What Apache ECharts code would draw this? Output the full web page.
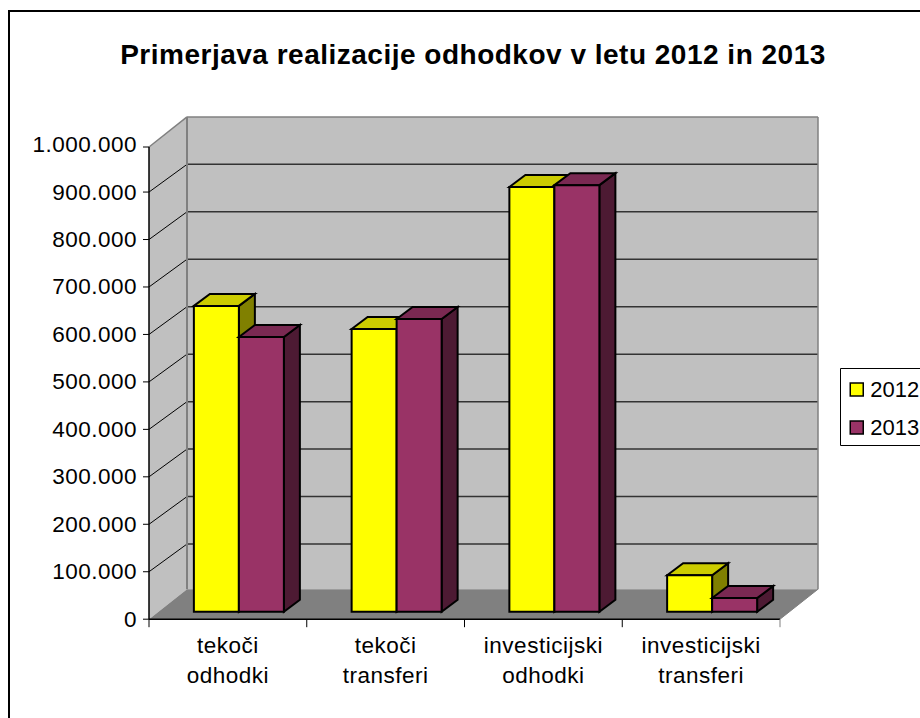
<!DOCTYPE html>
<html><head><meta charset="utf-8">
<style>html,body{margin:0;padding:0;background:#fff}#c{width:920px;height:718px}
#c svg text[style*="22.5px"]{letter-spacing:.5px}
#c svg text[style*="bold"]{letter-spacing:.5px}</style>
<script src="https://cdn.jsdelivr.net/npm/echarts@6/dist/echarts.min.js"></script>
</head><body><div id="c"></div>
<script>
var titleText = 'Primerjava realizacije odhodkov v letu 2012 in 2013';
var categories = ['tekoči\nodhodki', 'tekoči\ntransferi', 'investicijski\nodhodki', 'investicijski\ntransferi'];
var values2012 = [644500, 596000, 895000, 77000];
var values2013 = [579000, 617000, 899000, 29000];
var yMax = 1000000, yStep = 100000;
var FONT = '"Liberation Sans", Arial, sans-serif';
var DX = 38, DY = 27.7, FLOOR_DY = 30, TOP_ADJ = 2.4;
var BAR_DX = 16, BAR_DY = 12, BAR_W = 45, BAR_SHIFT = 11, BAR_LIFT = 7.4;

function fmt(v){ return String(v).replace(/\B(?=(\d{3})+$)/g, '.'); }
function ln(x1,y1,x2,y2,color,w){ return {type:'line',silent:true,shape:{x1:x1,y1:y1,x2:x2,y2:y2},style:{stroke:color,lineWidth:w||1}}; }
function poly(pts,fill,stroke,w){ return {type:'polygon',silent:true,shape:{points:pts},style:{fill:fill,stroke:stroke||null,lineWidth:w||0,lineJoin:'miter'}}; }

function renderFrame(params, api){
  if (params.dataIndex !== 0) return;
  var cs = params.coordSys, L = cs.x, R = cs.x + cs.width;
  var y0 = api.coord([0,0])[1], yT = api.coord([0,yMax])[1];
  var kids = [];
  var topF = yT + TOP_ADJ, topB = yT - DY, botB = y0 - FLOOR_DY;
  kids.push(poly([[L,topF],[L+DX,topB],[L+DX,botB],[L,y0]],'#C0C0C0'));
  kids.push(poly([[L+DX,topB],[R+DX,topB],[R+DX,botB],[L+DX,botB]],'#C0C0C0'));
  kids.push(poly([[L,y0],[L+DX,botB],[R+DX,botB],[R,y0]],'#808080'));
  for (var v = yStep; v < yMax; v += yStep){
    var y = api.coord([0,v])[1];
    kids.push(ln(L,y,L+DX,y-DY,'#000',1));
    kids.push(ln(L+DX,y-DY,R+DX,y-DY,'#333',1.5));
  }
  kids.push(ln(L,topF,L+DX,topB,'#808080',1.5));
  kids.push(ln(L+DX,topB,R+DX,topB,'#808080',1.5));
  kids.push(ln(L+DX,topB,L+DX,botB,'#808080',2));
  kids.push(ln(R+DX,topB,R+DX,botB,'#808080',1.5));
  kids.push(ln(R,y0,R+DX,botB,'#808080',1));
  kids.push(ln(L,topF,L,y0,'#000',1.5));
  kids.push(ln(L,y0,R,y0,'#000',1.5));
  for (v = 0; v <= yMax; v += yStep){
    var yy = api.coord([0,v])[1]; if (v === yMax) yy = topF;
    kids.push(ln(L-6,yy,L,yy,'#000',1));
  }
  var n = categories.length;
  for (var i = 0; i <= n; i++){
    var x = L + (R-L)*i/n;
    kids.push(ln(x,y0,x,y0+8,i===n?'#808080':'#000',1));
  }
  return {type:'group',children:kids};
}

function barRenderer(side, front, top, dark){
  return function(params, api){
    var c = api.coord([api.value(0), api.value(1)]);
    var b = api.coord([api.value(0), 0]);
    var cx = c[0] + BAR_SHIFT;
    var x1 = side < 0 ? cx - BAR_W : cx, x2 = x1 + BAR_W;
    var yT = c[1] - BAR_LIFT, yB = b[1] - BAR_LIFT;
    var st = '#000', w = 2;
    return {type:'group',children:[
      poly([[x2,yT],[x2+BAR_DX,yT-BAR_DY],[x2+BAR_DX,yB-BAR_DY],[x2,yB]],dark,st,w),
      poly([[x1,yT],[x1+BAR_DX,yT-BAR_DY],[x2+BAR_DX,yT-BAR_DY],[x2,yT]],top,st,w),
      poly([[x1,yT],[x2,yT],[x2,yB],[x1,yB]],front,st,w)
    ]};
  };
}
function pairs(arr){ return arr.map(function(v,i){ return [i,v]; }); }

var chart = echarts.init(document.getElementById('c'), null, {renderer:'svg'});
chart.setOption({
  animation:false,
  backgroundColor:'#fff',
  title:{text:titleText,left:468,top:35,textAlign:'center',textStyle:{fontFamily:FONT,fontWeight:'bold',fontSize:28,color:'#000'}},
  legend:{
    data:[{name:'2012',itemStyle:{color:'#FFFF00',borderColor:'#000',borderWidth:1.5}},
          {name:'2013',itemStyle:{color:'#993366',borderColor:'#000',borderWidth:1.5}}],
    orient:'vertical',left:840.5,top:368.5,padding:[10,6,7,9],itemGap:16,itemWidth:13,itemHeight:13,icon:'rect',
    borderColor:'#000',borderWidth:1,backgroundColor:'#fff',
    textStyle:{fontFamily:FONT,fontSize:22,color:'#000',padding:[0,0,0,2]}
  },
  grid:{left:149,right:140,top:144.6,bottom:98.8,containLabel:false},
  xAxis:{type:'category',data:categories,axisLine:{show:false},axisTick:{show:false},
    axisLabel:{interval:0,margin:11,fontFamily:FONT,fontSize:22.5,lineHeight:30,color:'#000'}},
  yAxis:{type:'value',min:0,max:yMax,interval:yStep,splitLine:{show:false},axisLine:{show:false},axisTick:{show:false},
    axisLabel:{margin:12,fontFamily:FONT,fontSize:22.5,color:'#000',formatter:function(v){return fmt(v);}}},
  graphic:[
    {type:'line',silent:true,z:-1,shape:{x1:9,y1:11,x2:920,y2:11},style:{stroke:'#000',lineWidth:2}},
    {type:'line',silent:true,z:-1,shape:{x1:9,y1:10,x2:9,y2:718},style:{stroke:'#000',lineWidth:2}}
  ],
  series:[
    {type:'custom',name:'frame',z:1,silent:true,data:[[0,0]],renderItem:renderFrame,clip:false},
    {type:'custom',name:'2012',z:2,silent:true,data:pairs(values2012),renderItem:barRenderer(-1,'#FFFF00','#CCCC00','#808000'),clip:false,encode:{x:0,y:1}},
    {type:'custom',name:'2013',z:3,silent:true,data:pairs(values2013),renderItem:barRenderer(1,'#993366','#7A2952','#4D1A33'),clip:false,encode:{x:0,y:1}}
  ]
});
</script></body></html>
